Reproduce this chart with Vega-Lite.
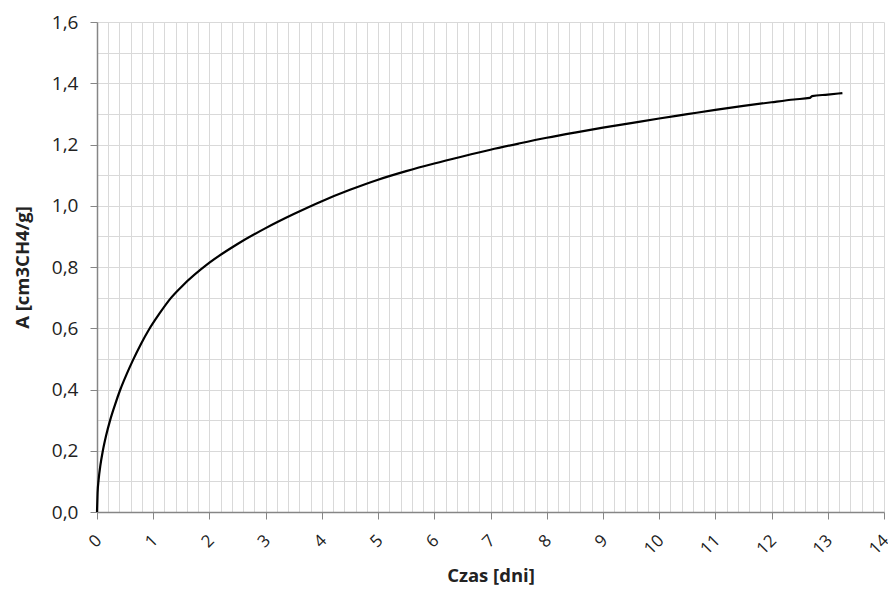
{
  "$schema": "https://vega.github.io/schema/vega-lite/v6.json",
  "width": 787,
  "height": 490,
  "autosize": "none",
  "padding": {"left": 97, "top": 22, "right": 4, "bottom": 78},
  "background": "white",
  "config": {
    "view": {"stroke": null},
    "font": "Open Sans"
  },
  "data": {
    "values": [
      {"t": 0, "a": 0},
      {"t": 0.01, "a": 0.062},
      {"t": 0.03, "a": 0.107},
      {"t": 0.06, "a": 0.152},
      {"t": 0.104, "a": 0.2},
      {"t": 0.16, "a": 0.248},
      {"t": 0.234, "a": 0.3},
      {"t": 0.32, "a": 0.35},
      {"t": 0.415, "a": 0.4},
      {"t": 0.52, "a": 0.447},
      {"t": 0.64, "a": 0.496},
      {"t": 0.78, "a": 0.548},
      {"t": 0.925, "a": 0.596},
      {"t": 1.1, "a": 0.645},
      {"t": 1.32, "a": 0.7},
      {"t": 1.5, "a": 0.735},
      {"t": 2.0, "a": 0.814},
      {"t": 2.5, "a": 0.875},
      {"t": 3.0, "a": 0.927},
      {"t": 3.5, "a": 0.973},
      {"t": 4.0, "a": 1.015},
      {"t": 4.5, "a": 1.052},
      {"t": 5.0, "a": 1.085},
      {"t": 5.5, "a": 1.113},
      {"t": 6.0, "a": 1.138},
      {"t": 6.5, "a": 1.161},
      {"t": 7.0, "a": 1.183},
      {"t": 7.5, "a": 1.203},
      {"t": 8.0, "a": 1.222},
      {"t": 8.5, "a": 1.239},
      {"t": 9.0, "a": 1.255},
      {"t": 9.5, "a": 1.27},
      {"t": 10.0, "a": 1.285},
      {"t": 10.5, "a": 1.299},
      {"t": 11.0, "a": 1.313},
      {"t": 11.5, "a": 1.326},
      {"t": 12.0, "a": 1.338},
      {"t": 12.4, "a": 1.347},
      {"t": 12.68, "a": 1.352},
      {"t": 12.72, "a": 1.358},
      {"t": 13.0, "a": 1.363},
      {"t": 13.26, "a": 1.368}
    ]
  },
  "mark": {"type": "line", "color": "black", "strokeWidth": 2.2, "interpolate": "monotone"},
  "encoding": {
    "x": {
      "field": "t",
      "type": "quantitative",
      "scale": {"domain": [0, 14], "nice": false, "zero": true},
      "axis": {
        "title": "Czas [dni]",
        "titleFont": "Open Sans",
        "titleFontSize": 18.5,
        "titleFontWeight": "bold",
        "titleColor": "#222",
        "titlePadding": 9,
        "values": [0,0.2,0.4,0.6,0.8,1,1.2,1.4,1.6,1.8,2,2.2,2.4,2.6,2.8,3,3.2,3.4,3.6,3.8,4,4.2,4.4,4.6,4.8,5,5.2,5.4,5.6,5.8,6,6.2,6.4,6.6,6.8,7,7.2,7.4,7.6,7.8,8,8.2,8.4,8.6,8.8,9,9.2,9.4,9.6,9.8,10,10.2,10.4,10.6,10.8,11,11.2,11.4,11.6,11.8,12,12.2,12.4,12.6,12.8,13,13.2,13.4,13.6,13.8,14],
        "labelExpr": "abs(datum.value - round(datum.value)) < 0.001 ? format(datum.value, 'd') : ''",
        "labelAngle": -45,
        "labelFontSize": 17,
        "labelColor": "#222",
        "labelPadding": 13,
        "labelOffset": -4,
        "labelOverlap": false,
        "labelFlush": false,
        "tickSize": 7,
        "tickColor": "#868686",
        "tickOpacity": {"expr": "abs(datum.value - round(datum.value)) < 0.001 ? 1 : 0"},
        "domainColor": "#868686",
        "domainWidth": 1.5,
        "grid": true,
        "gridColor": "#d9d9d9",
        "gridWidth": 1
      }
    },
    "y": {
      "field": "a",
      "type": "quantitative",
      "scale": {"domain": [0, 1.6], "nice": false},
      "axis": {
        "title": "A [cm3CH4/g]",
        "titleFont": "Open Sans",
        "titleFontSize": 18.5,
        "titleFontWeight": "bold",
        "titleColor": "#222",
        "titlePadding": 19,
        "values": [0,0.1,0.2,0.3,0.4,0.5,0.6,0.7,0.8,0.9,1.0,1.1,1.2,1.3,1.4,1.5,1.6],
        "labelExpr": "abs(datum.value*5 - round(datum.value*5)) < 0.001 ? replace(format(datum.value, '.1f'), '.', ',') : ''",
        "labelFontSize": 19,
        "labelColor": "#222",
        "labelPadding": 12,
        "labelFlush": false,
        "labelOverlap": false,
        "tickSize": 7,
        "tickColor": "#868686",
        "tickOpacity": {"expr": "abs(datum.value*5 - round(datum.value*5)) < 0.001 ? 1 : 0"},
        "domainColor": "#868686",
        "domainWidth": 1.5,
        "grid": true,
        "gridColor": "#d9d9d9",
        "gridWidth": 1
      }
    }
  }
}
